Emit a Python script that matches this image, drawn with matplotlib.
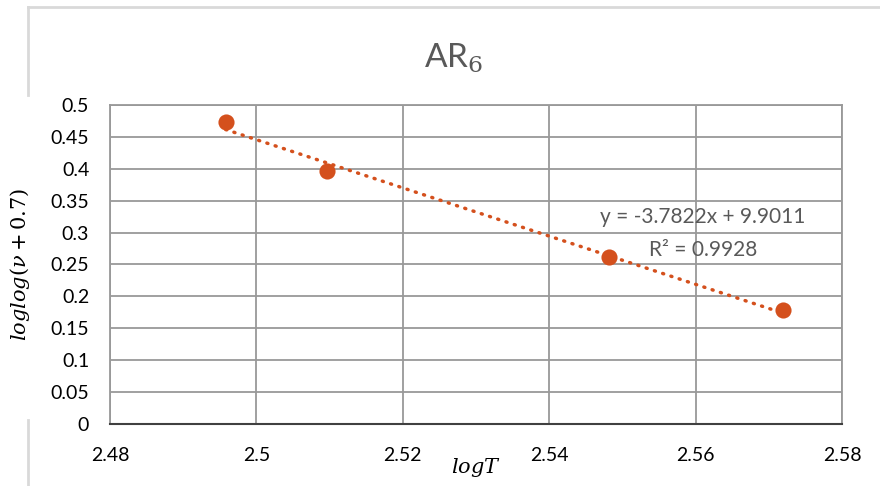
import matplotlib
matplotlib.use("Agg")
import matplotlib.pyplot as plt
import numpy as np

# data
log_t = [2.4958, 2.5096, 2.5482, 2.5719]
loglog_v = [0.4735, 0.3960, 0.2620, 0.1790]
slope = -3.7822
intercept = 9.9011
r2 = 0.9928

x_ticks = [2.48, 2.50, 2.52, 2.54, 2.56, 2.58]
x_tick_labels = ["2.48", "2.5", "2.52", "2.54", "2.56", "2.58"]
y_ticks = [0, 0.05, 0.1, 0.15, 0.2, 0.25, 0.3, 0.35, 0.4, 0.45, 0.5]
y_tick_labels = ["0", "0.05", "0.1", "0.15", "0.2", "0.25", "0.3", "0.35", "0.4", "0.45", "0.5"]

orange = "#D4501D"
grid_c = "#999999"
text_c = "#595959"

plt.rcParams["font.family"] = ["Lato", "DejaVu Sans"]
plt.rcParams["mathtext.fontset"] = "dejavuserif"

fig = plt.figure(figsize=(8.8, 4.86), dpi=100)
ax = fig.add_axes([0.125, 0.128, 0.832, 0.656])

# chart border (left + top only visible, left one broken by the y label)
border = "#d9d9d9"
fig.add_artist(plt.Line2D([0.032, 0.032], [0, 0.136], color=border, lw=2))
fig.add_artist(plt.Line2D([0.032, 0.032], [0.805, 0.985], color=border, lw=2))
fig.add_artist(plt.Line2D([0.032, 1.0], [0.985, 0.985], color=border, lw=2))

# trendline
xt = np.array([log_t[0], log_t[-1]])
ax.plot(xt, slope * xt + intercept, color=orange, lw=2.5,
        linestyle=(0, (0.3, 2.2)), dash_capstyle="round", zorder=3)
ax.scatter(log_t, loglog_v, s=135, color=orange, zorder=4, linewidths=0)

ax.set_xlim(2.48, 2.58)
ax.set_ylim(0, 0.5)
ax.set_xticks(x_ticks)
ax.set_xticklabels(x_tick_labels)
ax.set_yticks(y_ticks)
ax.set_yticklabels(y_tick_labels)
ax.tick_params(length=0, labelsize=14, colors="black")
ax.tick_params(axis="y", pad=15)
ax.tick_params(axis="x", pad=17)
ax.grid(True, color=grid_c, lw=1.3)
ax.set_axisbelow(True)
for side in ["top", "right", "left"]:
    ax.spines[side].set_color(grid_c)
    ax.spines[side].set_linewidth(1.3)
ax.spines["bottom"].set_color("#404040")
ax.spines["bottom"].set_linewidth(1.5)

fig.text(0.516, 0.88, "AR$_6$", fontsize=24, color=text_c, ha="center", va="center")
ax.set_xlabel(r"$logT$", fontsize=15)
ax.xaxis.set_label_coords(0.5, -0.1375)
ax.xaxis.label.set_va("center")
ax.set_ylabel(r"$loglog(\nu + 0.7)$", fontsize=15)
ax.yaxis.set_label_coords(-0.123, 0.5)
ax.yaxis.label.set_va("center")

ax.text(2.561, 0.324, "y = -3.7822x + 9.9011", ha="center", va="center",
        fontsize=15, color=text_c)
ax.text(2.561, 0.2725, "R² = 0.9928", ha="center", va="center",
        fontsize=15, color=text_c)

fig.savefig("out.png", dpi=100, facecolor="white")
